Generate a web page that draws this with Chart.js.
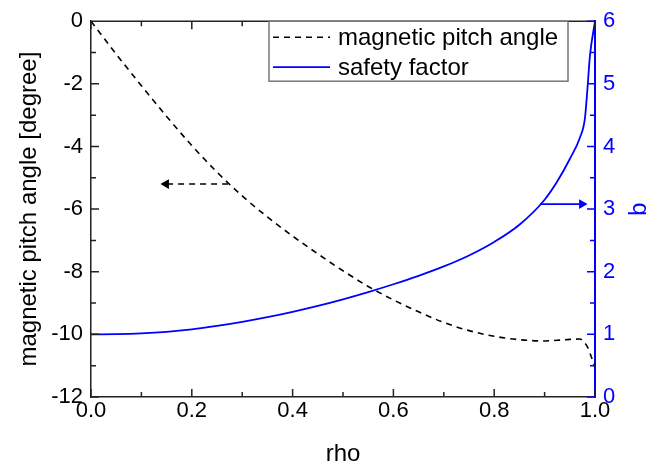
<!DOCTYPE html>
<html>
<head>
<meta charset="utf-8">
<script src="https://cdn.jsdelivr.net/npm/chart.js@4"></script>
<style>
  html, body { margin: 0; padding: 0; background: #fff; }
  #wrap { width: 649px; height: 470px; }
</style>
</head>
<body>
<div id="wrap"><canvas id="pitchChart" width="649" height="470"></canvas></div>
<script>
// values
const rho = [0, 0.05, 0.1, 0.15, 0.2, 0.25, 0.3, 0.35, 0.4, 0.45, 0.5, 0.55, 0.6, 0.65, 0.7, 0.75, 0.8, 0.85, 0.9, 0.925, 0.95, 0.97, 0.98, 0.985, 0.99, 1.0];
const pitchAngle = [0, -1.05, -2.06, -3.04, -3.97, -4.82, -5.58, -6.25, -6.86, -7.43, -7.97, -8.47, -8.9, -9.28, -9.62, -9.88, -10.06, -10.17, -10.21, -10.19, -10.16, -10.15, -10.28, -10.4, -10.6, -11.05];
const safetyFactor = [1.0, 1.003, 1.015, 1.04, 1.08, 1.135, 1.2, 1.275, 1.36, 1.455, 1.56, 1.675, 1.8, 1.935, 2.085, 2.26, 2.475, 2.75, 3.15, 3.44, 3.8, 4.14, 4.45, 4.92, 5.45, 6.0];

// arrows pointing at the axis each curve belongs to
const arrowPitchRho = [0.272, 0.149];
const arrowPitchVal = [-5.2, -5.2];
const arrowQRho = [0.891, 0.974];
const arrowQVal = [3.08, 3.08];

// tick labels
const xTicks = [0, 0.2, 0.4, 0.6, 0.8, 1.0];
const yTicks = [-12, -10, -8, -6, -4, -2, 0];
const qTicks = [0, 1, 2, 3, 4, 5, 6];

const BLUE = 'rgb(0, 0, 255)';
const FONT = "'Liberation Sans', Arial, sans-serif";
Chart.defaults.font.family = FONT;
Chart.defaults.color = '#000';

const pts = (xs, ys) => xs.map((x, i) => ({ x: x, y: ys[i] }));

// inward major/minor ticks plus top frame line
const frameTicks = {
  id: 'frameTicks',
  afterDraw(chart) {
    const { ctx, chartArea: a, scales } = chart;
    const marks = (scale) => {
      const out = [];
      const t = scale.ticks.map(k => k.value);
      t.forEach((v, i) => {
        out.push([scale.getPixelForValue(v), 8]);
        if (i < t.length - 1) out.push([scale.getPixelForValue((v + t[i + 1]) / 2), 5]);
      });
      return out;
    };
    ctx.save();
    ctx.lineWidth = 1.5;
    ctx.strokeStyle = '#222';
    ctx.beginPath();
    ctx.moveTo(a.left, a.top); ctx.lineTo(a.right, a.top);
    marks(scales.x).forEach(([p, len]) => {
      ctx.moveTo(p, a.bottom); ctx.lineTo(p, a.bottom - len);
      ctx.moveTo(p, a.top); ctx.lineTo(p, a.top + len);
    });
    marks(scales.y).forEach(([p, len]) => {
      ctx.moveTo(a.left, p); ctx.lineTo(a.left + len, p);
    });
    ctx.stroke();
    ctx.strokeStyle = BLUE;
    ctx.beginPath();
    marks(scales.y2).forEach(([p, len]) => {
      ctx.moveTo(a.right, p); ctx.lineTo(a.right - len, p);
    });
    ctx.stroke();
    ctx.restore();
  }
};

// boxed legend in the top of the plot
const boxLegend = {
  id: 'boxLegend',
  afterDraw(chart) {
    const { ctx, chartArea: a } = chart;
    const x0 = a.left + 178, y0 = a.top, w = 299, h = 60;
    ctx.save();
    ctx.fillStyle = '#fff';
    ctx.fillRect(x0, y0, w, h);
    ctx.strokeStyle = '#777';
    ctx.lineWidth = 1.5;
    ctx.strokeRect(x0, y0, w, h);
    chart.data.datasets.filter(d => d.inLegend).forEach((d, i) => {
      const y = y0 + 16 + i * 30;
      ctx.strokeStyle = d.borderColor;
      ctx.lineWidth = d.borderWidth;
      ctx.setLineDash(d.borderDash || []);
      ctx.beginPath();
      ctx.moveTo(x0 + 4, y); ctx.lineTo(x0 + 61, y);
      ctx.stroke();
      ctx.setLineDash([]);
      ctx.fillStyle = '#000';
      ctx.font = '24px ' + FONT;
      ctx.textBaseline = 'middle';
      ctx.fillText(d.label, x0 + 69, y + 1);
    });
    ctx.restore();
  }
};

const setTicks = (vals) => (scale) => { scale.ticks = vals.map(v => ({ value: v })); };

new Chart(document.getElementById('pitchChart').getContext('2d'), {
  type: 'line',
  data: {
    datasets: [
      {
        label: 'magnetic pitch angle',
        inLegend: true,
        data: pts(rho, pitchAngle),
        yAxisID: 'y',
        borderColor: '#000',
        borderWidth: 1.6,
        borderDash: [6, 5],
        pointRadius: 0,
        cubicInterpolationMode: 'monotone'
      },
      {
        label: 'safety factor',
        inLegend: true,
        data: pts(rho, safetyFactor),
        yAxisID: 'y2',
        borderColor: BLUE,
        borderWidth: 1.8,
        pointRadius: 0,
        cubicInterpolationMode: 'monotone'
      },
      {
        label: 'arrow pitch',
        data: pts(arrowPitchRho, arrowPitchVal),
        yAxisID: 'y',
        borderColor: '#000',
        borderWidth: 1.6,
        borderDash: [6, 5],
        pointStyle: 'triangle',
        pointRotation: 270,
        pointRadius: [0, 4],
        pointBackgroundColor: '#000',
        pointBorderColor: '#000'
      },
      {
        label: 'arrow q',
        data: pts(arrowQRho, arrowQVal),
        yAxisID: 'y2',
        borderColor: BLUE,
        borderWidth: 1.6,
        pointStyle: 'triangle',
        pointRotation: 90,
        pointRadius: [0, 4],
        pointBackgroundColor: BLUE,
        pointBorderColor: BLUE
      }
    ]
  },
  options: {
    responsive: false,
    animation: false,
    layout: { padding: { top: 20, left: 0, right: 0, bottom: 0 } },
    plugins: {
      legend: { display: false },
      tooltip: { enabled: false }
    },
    scales: {
      x: {
        type: 'linear',
        min: 0,
        max: 1,
        afterBuildTicks: setTicks(xTicks),
        afterFit: (s) => { s.height = 73; },
        grid: { display: false, drawTicks: false },
        border: { display: true, color: '#222', width: 1.5 },
        ticks: { font: { size: 22 }, padding: 1, maxRotation: 0, autoSkip: false, callback: v => v.toFixed(1) },
        title: { display: true, text: 'rho', font: { size: 24 }, padding: { top: 0, bottom: 1 } }
      },
      y: {
        position: 'left',
        min: -12,
        max: 0,
        afterBuildTicks: setTicks(yTicks),
        afterFit: (s) => { s.width = 91; },
        grid: { display: false, drawTicks: false },
        border: { display: true, color: '#222', width: 1.5 },
        ticks: { font: { size: 22 }, padding: 8, callback: v => String(v) },
        title: { display: true, text: 'magnetic pitch angle [degree]', font: { size: 24 }, padding: { top: 15, bottom: 0 } }
      },
      y2: {
        position: 'right',
        min: 0,
        max: 6,
        afterBuildTicks: setTicks(qTicks),
        afterFit: (s) => { s.width = 54; },
        grid: { display: false, drawTicks: false },
        border: { display: true, color: BLUE, width: 2 },
        ticks: { font: { size: 22 }, padding: 8, color: BLUE, callback: v => String(v) },
        title: { display: true, text: 'q', color: BLUE, font: { size: 24, lineHeight: 1 }, padding: { top: -3, bottom: 0 } }
      }
    }
  },
  plugins: [frameTicks, boxLegend]
});
</script>
</body>
</html>
